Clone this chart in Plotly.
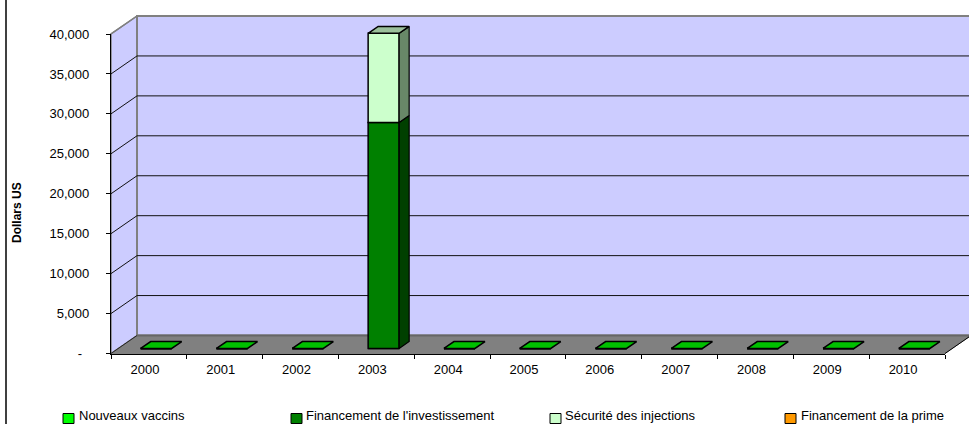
import plotly.graph_objects as go

# ---- data ----
years = ["2000", "2001", "2002", "2003", "2004", "2005", "2006", "2007", "2008", "2009", "2010"]
nouveaux_vaccins = [0, 0, 0, 0, 0, 0, 0, 0, 0, 0, 0]
financement_invest = [0, 0, 0, 28300, 0, 0, 0, 0, 0, 0, 0]
securite_injections = [0, 0, 0, 11150, 0, 0, 0, 0, 0, 0, 0]
financement_prime = [0, 0, 0, 0, 0, 0, 0, 0, 0, 0, 0]
y_tick_values = [0, 5000, 10000, 15000, 20000, 25000, 30000, 35000, 40000]
y_tick_labels = ["-\u00a0\u00a0", "5,000", "10,000", "15,000", "20,000", "25,000", "30,000", "35,000", "40,000"]
series_names = ["Nouveaux vaccins", "Financement de l'investissement",
                "Sécurité des injections", "Financement de la prime"]

# ---- styles ----
W, H = 969, 424
FONT = "Liberation Sans"
front_colors = ["#00FF00", "#008000", "#CCFFCC", "#FF9900"]
top_colors = ["#00C000", "#006000", "#9BC09B", "#C07300"]
side_colors = ["#008000", "#004000", "#688868", "#805000"]
legend_swatch_x = [63, 291, 550, 785]
legend_text_x = [76.5, 304, 562.5, 798.5]

# pixel geometry of the plot box
X0, X1, Y0, Y1 = 111, 945, 353.5, 34
n = len(years)
cat_px = (X1 - X0) / n
val_px = (Y0 - Y1) / 40000
DX = 26 / cat_px          # depth offset, category units
DY = 18 / val_px          # depth offset, value units
D0, D1 = 0.28, 0.665      # bar depth span
BW = 31 / cat_px          # bar width
canvas_x = [(0 - X0) / cat_px - 0.5, (W - X0) / cat_px - 0.5]
canvas_y = [(Y0 - H) / val_px, Y0 / val_px]


def pt(c, v, d):
    return c + d * DX, v + d * DY


def poly(points, fill=None, line="black", width=1, axes=("x", "y")):
    xs, ys = zip(*points)
    return go.Scatter(x=list(xs), y=list(ys), mode="lines", xaxis=axes[0], yaxis=axes[1],
                      fill="toself" if fill else None, fillcolor=fill,
                      line=dict(color=line, width=width), showlegend=False, hoverinfo="skip")


fig = go.Figure()
L, R = -0.5, n - 0.5
TOP = y_tick_values[-1]

# walls and floor
fig.add_trace(poly([pt(L, 0, 0), pt(L, 0, 1), pt(L, TOP, 1), pt(L, TOP, 0), pt(L, 0, 0)],
                   fill="#CCCCFF", line="#808080", width=1.5))
fig.add_trace(poly([pt(L, 0, 1), pt(R, 0, 1), pt(R, TOP, 1), pt(L, TOP, 1), pt(L, 0, 1)],
                   fill="#CCCCFF", line="#808080", width=2))
fig.add_trace(poly([pt(L, 0, 0), pt(R, 0, 0), pt(R, 0, 1), pt(L, 0, 1), pt(L, 0, 0)],
                   fill="#808080", line="#808080", width=1))
fig.add_trace(poly([pt(L, 0, 1), pt(R, 0, 1)], line="#666666", width=2))
fig.add_trace(poly([pt(L, 0, 0), pt(L, 0, 1)], line="#222222", width=1))
fig.add_trace(poly([pt(R, 0, 0), pt(R, 0, 1)], line="#000000", width=1))
for v in y_tick_values[1:-1]:
    fig.add_trace(poly([pt(L, v, 0), pt(L, v, 1), pt(R, v, 1)], line="#111111", width=1))
fig.add_trace(poly([pt(L, TOP, 0), pt(L, TOP, 1)], line="#808080", width=1.5))

# bars
all_series = [nouveaux_vaccins, financement_invest, securite_injections, financement_prime]
idx = list(range(n))
cum = [0] * n
for name, vals, col in zip(series_names, all_series, front_colors):
    fig.add_trace(go.Bar(x=[i + D0 * DX for i in idx], y=vals,
                         base=[c + D0 * DY for c in cum], width=BW, name=name,
                         marker=dict(color=col, line=dict(color="black", width=1.5)),
                         xaxis="x2", yaxis="y2", showlegend=False))
    cum = [c + v for c, v in zip(cum, vals)]

hw = BW / 2
for i in idx:
    low = 0
    top_k = 0
    for k, vals in enumerate(all_series):
        if vals[i] > 0:
            hi = low + vals[i]
            fig.add_trace(poly([pt(i + hw, low, D0), pt(i + hw, low, D1), pt(i + hw, hi, D1),
                                pt(i + hw, hi, D0), pt(i + hw, low, D0)],
                               fill=side_colors[k], width=1.2, axes=("x2", "y2")))
            low = hi
            top_k = k
    fig.add_trace(poly([pt(i - hw, low, D0), pt(i + hw, low, D0), pt(i + hw, low, D1),
                        pt(i - hw, low, D1), pt(i - hw, low, D0)],
                       fill=top_colors[top_k], width=1.5, axes=("x2", "y2")))

# axis carrier (ticks and labels only)
fig.add_trace(go.Scatter(x=years, y=[0] * n, mode="markers", marker=dict(opacity=0),
                         xaxis="x3", yaxis="y3", showlegend=False, hoverinfo="skip"))

hidden = dict(visible=False, fixedrange=True, automargin=False)
tick_font = dict(family=FONT, size=13, color="black")
legend_shapes = [dict(type="rect", xref="paper", yref="paper",
                      x0=sx / W, x1=(sx + 11) / W, y0=1 - 423.5 / H, y1=1 - 413.5 / H,
                      fillcolor=c, line=dict(color="black", width=1))
                 for sx, c in zip(legend_swatch_x, front_colors)]
legend_labels = [dict(text=s, xref="paper", yref="paper", x=tx / W, y=1 - 415.5 / H,
                      xanchor="left", yanchor="middle", showarrow=False,
                      font=tick_font)
                 for s, tx in zip(series_names, legend_text_x)]

fig.update_layout(
    template="none",
    width=W, height=H, margin=dict(l=0, r=0, t=0, b=0, pad=0), autosize=False,
    paper_bgcolor="white", plot_bgcolor="rgba(0,0,0,0)",
    barmode="overlay", showlegend=False,
    xaxis=dict(domain=[0, 1], range=canvas_x, **hidden),
    yaxis=dict(domain=[0, 1], range=canvas_y, **hidden),
    xaxis2=dict(overlaying="x", range=canvas_x, **hidden),
    yaxis2=dict(overlaying="y", range=canvas_y, **hidden),
    xaxis3=dict(domain=[X0 / W, X1 / W], anchor="y3", type="category", categoryorder="array",
                categoryarray=years, range=[-0.5, n - 0.5], tickson="boundaries",
                ticks="outside", ticklen=4,
                tickcolor="black", showline=True, linecolor="black", linewidth=1.2,
                showgrid=False, zeroline=False, tickfont=tick_font, tickangle=0,
                ticklabelshift=-4, ticklabelstandoff=4, fixedrange=True, automargin=False),
    yaxis3=dict(domain=[1 - Y0 / H, 1 - Y1 / H], anchor="x3", range=[0, TOP],
                tickvals=y_tick_values, ticktext=y_tick_labels, ticks="outside", ticklen=4,
                tickcolor="black", showline=True, linecolor="black", linewidth=1.2,
                showgrid=False, zeroline=False, tickfont=tick_font,
                ticklabelstandoff=14, fixedrange=True, automargin=False),
    shapes=legend_shapes + [dict(type="line", xref="paper", yref="paper",
                                 x0=6 / W, x1=6 / W, y0=0, y1=1,
                                 line=dict(color="black", width=1.5))],
    annotations=legend_labels + [dict(text="<b>Dollars US</b>", xref="paper", yref="paper",
                                      x=17 / W, y=1 - 213 / H, textangle=-90, showarrow=False,
                                      xanchor="center", yanchor="middle",
                                      font=dict(family=FONT, size=12, color="black"))],
)

fig.write_html("out.html", config=dict(displayModeBar=False),
               post_script="document.body.style.margin='0';document.documentElement.style.overflow='hidden';")
